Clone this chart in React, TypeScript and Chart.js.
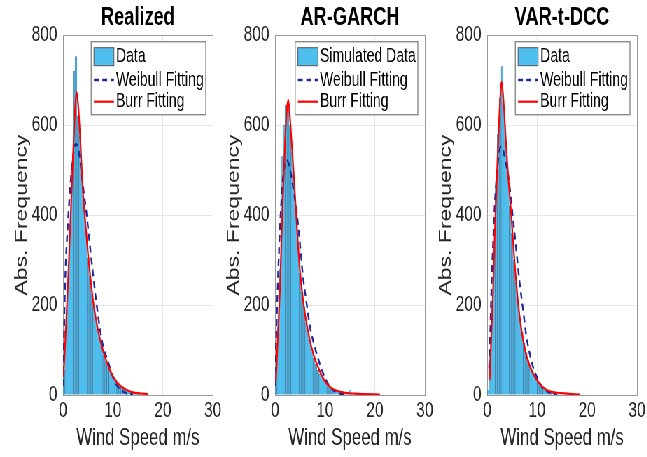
import React, { useEffect, useRef } from 'react';
import { Chart, registerables } from 'chart.js';

Chart.register(...registerables);

// ---------------- data ----------------
const BIN_CENTERS = [0.2, 0.6, 1.0, 1.4, 1.8, 2.2, 2.6, 3.0, 3.4, 3.8, 4.2, 4.6, 5.0, 5.4, 5.8, 6.2, 6.6, 7.0, 7.4, 7.8, 8.2, 8.6, 9.0, 9.4, 9.8, 10.2, 10.6, 11.0, 11.4, 11.8, 12.2, 12.6, 13.0, 13.4, 13.8, 14.2, 14.6, 15.0, 15.4];

const realizedCounts = [55, 150, 260, 380, 520, 720, 752, 620, 575, 480, 420, 360, 305, 265, 225, 195, 165, 140, 120, 104, 90, 76, 64, 55, 46, 40, 33, 27, 22, 17, 14, 11, 9, 7, 5, 4, 3, 2, 1];
const argarchCounts = [45, 150, 280, 530, 600, 645, 650, 600, 540, 480, 400, 330, 270, 228, 195, 160, 135, 115, 96, 82, 68, 56, 46, 38, 31, 26, 21, 17, 14, 11, 10, 8, 7, 5, 4, 3, 6, 10, 2];
const vartdccCounts = [10, 90, 200, 330, 460, 580, 660, 730, 640, 560, 490, 420, 360, 300, 250, 205, 170, 140, 115, 94, 78, 64, 52, 44, 36, 30, 24, 19, 15, 12, 10, 8, 6, 4, 3, 2, 0, 0, 0];

const realizedWeibullX = [0.05, 0.1, 0.4, 1.0, 1.5, 2.0, 2.6, 3.0, 3.5, 4.0, 4.7, 5.5, 6.0, 6.7, 7.5, 8.0, 9.0, 10.0, 11.0, 12.0, 13.0, 14.0];
const realizedWeibullY = [20, 60, 240, 385, 470, 530, 558, 550, 515, 465, 404, 320, 270, 204, 140, 110, 75, 40, 18, 8, 3, 1];
const realizedBurrX = [0.1, 0.5, 1.0, 1.5, 2.0, 2.4, 2.7, 3.0, 3.5, 4.0, 4.5, 5.0, 5.5, 6.0, 6.5, 7.0, 7.5, 8.0, 8.5, 9.0, 9.5, 10, 10.5, 11, 12, 13, 14, 15, 16, 17];
const realizedBurrY = [40, 130, 250, 390, 530, 630, 673, 650, 560, 450, 380, 315, 260, 212, 175, 145, 120, 100, 82, 66, 53, 42, 33, 26, 16, 10, 6, 4, 3, 2];

const argarchWeibullX = [0.05, 0.1, 0.33, 1.0, 1.5, 2.0, 2.3, 2.7, 3.2, 3.7, 4.3, 5.0, 5.6, 6.3, 7.0, 8.0, 9.0, 10.0, 11.0, 12.0, 13.0, 14.0];
const argarchWeibullY = [20, 60, 167, 374, 470, 515, 522, 515, 490, 455, 410, 335, 263, 205, 152, 105, 68, 38, 18, 8, 3, 1];
const argarchBurrX = [0.1, 0.2, 0.6, 1.0, 1.3, 1.65, 2.0, 2.3, 2.65, 3.0, 3.3, 3.65, 4.0, 4.3, 4.6, 5.0, 5.5, 6.0, 6.5, 7.0, 7.5, 8.0, 8.5, 9.0, 9.5, 10.3, 11, 12, 14, 16, 18, 21];
const argarchBurrY = [30, 41, 140, 240, 350, 463, 560, 626, 656, 615, 565, 507, 445, 389, 335, 275, 222, 180, 148, 120, 98, 80, 65, 52, 40, 26, 18, 11, 5, 3, 2, 1];

const vartdccWeibullX = [0.4, 0.5, 0.87, 1.2, 1.54, 2.0, 2.5, 2.9, 3.4, 4.0, 4.5, 5.2, 5.9, 6.5, 7.2, 7.8, 8.5, 9.2, 9.9, 11, 12, 13, 14];
const vartdccWeibullY = [60, 90, 240, 340, 426, 500, 545, 552, 535, 500, 463, 390, 315, 250, 189, 135, 93, 62, 41, 18, 8, 3, 1];
const vartdccBurrX = [0.5, 0.8, 1.2, 1.5, 1.87, 2.4, 2.9, 3.3, 3.9, 4.4, 4.9, 5.4, 5.9, 6.5, 7.2, 8.0, 9.2, 10.5, 11.9, 13, 14, 16, 18.5];
const vartdccBurrY = [33, 120, 240, 350, 463, 611, 696, 650, 537, 460, 389, 310, 240, 175, 122, 82, 48, 25, 11, 7, 5, 3, 1];

const TITLES = ['Realized', 'AR-GARCH', 'VAR-t-DCC'];
const DATA_LABELS = ['Data', 'Simulated Data', 'Data'];
const FIT_LABELS = ['Weibull Fitting', 'Burr Fitting'];
const X_TICKS = [0, 10, 20, 30];
const Y_TICKS = [0, 200, 400, 600, 800];
const X_LABEL = 'Wind Speed m/s';
const Y_LABEL = 'Abs. Frequency';

// ---------------- styling ----------------
const SQUEEZE = 0.7;
const FONT = '"Liberation Sans", Arial, Helvetica, sans-serif';
const HIST_FACE = '#4DBEEE';
const HIST_EDGE = 'rgba(30,80,120,0.75)';
const WEIB_COLOR = '#1F2A9A';
const BURR_COLOR = '#FF0000';
const BOX = '#999999';
const GRID = '#e6e6e6';
const CANVAS_W = 322;
const CANVAS_H = 457;
const OFFSETS = [0, 303, 606];

const legendPlugin = {
  id: 'matlabLegend',
  afterDatasetsDraw(chart: any) {
    const { ctx, chartArea } = chart;
    const ds = chart.data.datasets;
    ctx.save();
    ctx.font = `20px ${FONT}`;
    const padL = 2.9, symW = 28.6, gap = 3, padR = 4;
    const textW = Math.max(...ds.map((d: any) => ctx.measureText(d.label).width));
    const w = padL + symW + gap + textW + padR;
    const h = 73;
    const right = chartArea.right - 10;
    const left = right - w;
    const top = chartArea.top + 6.7;
    ctx.fillStyle = '#fff';
    ctx.fillRect(left, top, w, h);
    ctx.strokeStyle = '#8a8a8a';
    ctx.lineWidth = 1.4;
    ctx.strokeRect(left, top, w, h);
    const rows = [15, 38.3, 60];
    ds.forEach((d: any, i: number) => {
      const cy = top + rows[i];
      const sx = left + padL + 1;
      if (d.type === 'bar') {
        ctx.fillStyle = d.backgroundColor;
        ctx.fillRect(sx, cy - 9, symW, 18);
        ctx.strokeStyle = '#555';
        ctx.lineWidth = 1;
        ctx.strokeRect(sx, cy - 9, symW, 18);
      } else {
        ctx.strokeStyle = d.borderColor;
        ctx.lineWidth = d.borderWidth;
        ctx.setLineDash(d.borderDash || []);
        ctx.beginPath();
        ctx.moveTo(sx, cy);
        ctx.lineTo(sx + symW, cy);
        ctx.stroke();
        ctx.setLineDash([]);
      }
      ctx.fillStyle = '#000';
      ctx.textBaseline = 'middle';
      ctx.textAlign = 'left';
      ctx.fillText(d.label, sx + symW + gap, cy);
    });
    ctx.restore();
  },
};

type PanelCfg = {
  title: string;
  dataLabel: string;
  counts: number[];
  weibX: number[];
  weibY: number[];
  burrX: number[];
  burrY: number[];
};

const PANELS: PanelCfg[] = [
  { title: TITLES[0], dataLabel: DATA_LABELS[0], counts: realizedCounts, weibX: realizedWeibullX, weibY: realizedWeibullY, burrX: realizedBurrX, burrY: realizedBurrY },
  { title: TITLES[1], dataLabel: DATA_LABELS[1], counts: argarchCounts, weibX: argarchWeibullX, weibY: argarchWeibullY, burrX: argarchBurrX, burrY: argarchBurrY },
  { title: TITLES[2], dataLabel: DATA_LABELS[2], counts: vartdccCounts, weibX: vartdccWeibullX, weibY: vartdccWeibullY, burrX: vartdccBurrX, burrY: vartdccBurrY },
];

function Panel({ cfg, left }: { cfg: PanelCfg; left: number }) {
  const ref = useRef<HTMLCanvasElement>(null);
  useEffect(() => {
    const xMax = X_TICKS[X_TICKS.length - 1];
    const yMax = Y_TICKS[Y_TICKS.length - 1];
    const chart = new Chart(ref.current as HTMLCanvasElement, {
      type: 'bar',
      data: {
        datasets: [
          {
            type: 'bar',
            label: cfg.dataLabel,
            data: BIN_CENTERS.map((x, i) => ({ x, y: cfg.counts[i] })),
            backgroundColor: HIST_FACE,
            borderColor: HIST_EDGE,
            borderWidth: 0.7,
            barPercentage: 1,
            categoryPercentage: 1,
            order: 3,
          } as any,
          {
            type: 'line',
            label: FIT_LABELS[0],
            data: cfg.weibX.map((x, i) => ({ x, y: cfg.weibY[i] })),
            borderColor: WEIB_COLOR,
            borderWidth: 2.4,
            borderDash: [7, 5],
            pointRadius: 0,
            fill: false,
            cubicInterpolationMode: 'monotone',
            order: 2,
          } as any,
          {
            type: 'line',
            label: FIT_LABELS[1],
            data: cfg.burrX.map((x, i) => ({ x, y: cfg.burrY[i] })),
            borderColor: BURR_COLOR,
            borderWidth: 2.2,
            pointRadius: 0,
            fill: false,
            cubicInterpolationMode: 'monotone',
            order: 1,
          } as any,
        ],
      },
      options: {
        animation: false,
        responsive: false,
        devicePixelRatio: 1,
        layout: { autoPadding: false, padding: { left: 0, right: CANVAS_W - 304, top: 0, bottom: 0 } },
        plugins: {
          legend: { display: false },
          tooltip: { enabled: false },
          title: {
            display: true,
            text: cfg.title,
            fullSize: false,
            color: '#000',
            font: { family: FONT, size: 26, weight: 'bold', lineHeight: 1.1 },
            padding: { top: 3.5, bottom: 2.9 },
          },
        },
        scales: {
          x: {
            type: 'linear',
            min: 0,
            max: xMax,
            offset: false,
            afterBuildTicks: (s: any) => { s.ticks = X_TICKS.map((v) => ({ value: v })); },
            ticks: { font: { family: FONT, size: 22 }, color: '#262626', padding: 3, maxRotation: 0 },
            grid: {
              drawTicks: false,
              offset: false,
              color: (c: any) => (c.tick && c.tick.value === xMax ? BOX : GRID),
            },
            border: { color: BOX, width: 1 },
            title: {
              display: true,
              text: X_LABEL,
              color: '#262626',
              font: { family: FONT, size: 24 },
              padding: { top: 0, bottom: 4.6 },
            },
            afterFit: (s: any) => { s.height = 62; },
          },
          y: {
            type: 'linear',
            min: 0,
            max: yMax,
            afterBuildTicks: (s: any) => { s.ticks = Y_TICKS.map((v) => ({ value: v })); },
            ticks: { font: { family: FONT, size: 22 }, color: '#262626', padding: 8 },
            grid: {
              drawTicks: false,
              color: (c: any) => (c.tick && c.tick.value === yMax ? BOX : GRID),
            },
            border: { color: BOX, width: 1 },
            title: {
              display: true,
              text: Y_LABEL,
              color: '#262626',
              font: { family: FONT, size: 23 },
              padding: { top: 17.6, bottom: 0 },
            },
            afterFit: (s: any) => { s.width = 90; },
          },
        },
      } as any,
      plugins: [legendPlugin],
    });
    return () => chart.destroy();
  }, [cfg]);
  return (
    <canvas
      ref={ref}
      width={CANVAS_W}
      height={CANVAS_H}
      style={{ position: 'absolute', left, top: 0, width: CANVAS_W, height: CANVAS_H }}
    />
  );
}

export default function App() {
  useEffect(() => {
    document.body.style.overflow = 'hidden';
  }, []);
  return (
    <div
      style={{
        position: 'absolute',
        left: 0,
        top: 0,
        width: 647 / SQUEEZE,
        height: CANVAS_H,
        transform: `scaleX(${SQUEEZE})`,
        transformOrigin: '0 0',
        background: '#fff',
        overflow: 'hidden',
      }}
    >
      {PANELS.map((p, i) => (
        <Panel key={i} cfg={p} left={OFFSETS[i]} />
      ))}
    </div>
  );
}
